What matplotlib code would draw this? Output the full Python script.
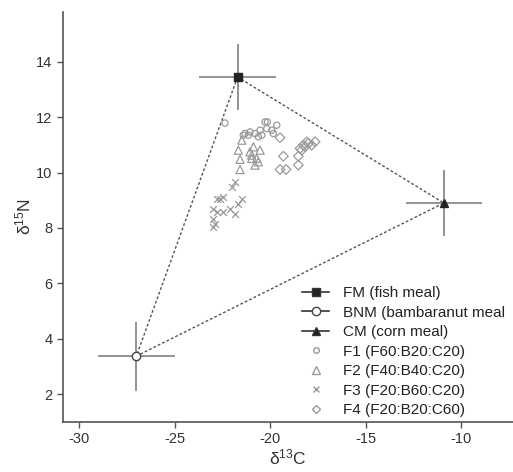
import numpy as np
import matplotlib.pyplot as plt
from matplotlib.lines import Line2D

# source end members: mean and spread
src_names = ['FM (fish meal)', 'BNM (bambaranut meal', 'CM (corn meal)']
src_c = [-21.7, -27.0, -10.9]
src_n = [13.45, 3.37, 8.9]
src_c_err = [2.0, 2.0, 2.0]
src_n_err = [1.2, 1.25, 1.2]

# consumer samples
f1_c = [-22.36, -21.31, -21.05, -20.79, -20.52, -20.26, -20.14, -19.65, -20.17,
        -19.91, -19.83, -20.43, -20.61, -21.14, -21.40]
f1_n = [11.79, 11.41, 11.47, 11.41, 11.53, 11.83, 11.83, 11.71, 11.59,
        11.53, 11.41, 11.35, 11.29, 11.35, 11.35]

f2_c = [-21.48, -21.66, -21.57, -21.57, -21.05, -20.96, -20.52, -20.70, -20.79,
        -20.96, -20.87, -20.61]
f2_n = [11.17, 10.81, 10.48, 10.11, 10.75, 10.63, 10.81, 10.51, 10.27,
        10.51, 10.93, 10.39]

f3_c = [-22.01, -21.83, -22.79, -22.44, -22.62, -21.48, -21.66, -22.97, -22.79,
        -22.44, -22.09, -21.83, -22.97, -22.97, -22.88]
f3_n = [9.48, 9.66, 9.06, 9.12, 9.06, 9.06, 8.88, 8.70, 8.58,
        8.58, 8.70, 8.52, 8.34, 8.04, 8.16]

f4_c = [-19.48, -19.30, -19.48, -19.16, -18.52, -18.52, -18.43, -18.26, -18.08,
        -17.64, -18.34, -18.17, -17.99, -17.82]
f4_n = [11.26, 10.59, 10.11, 10.11, 10.59, 10.27, 10.87, 10.99, 11.11,
        11.11, 10.81, 10.93, 11.05, 10.99]

f_labels = ['F1 (F60:B20:C20)', 'F2 (F40:B40:C20)', 'F3 (F20:B60:C20)', 'F4 (F20:B20:C60)']

plt.rcParams['font.family'] = ['Liberation Sans', 'DejaVu Sans']
plt.rcParams['axes.unicode_minus'] = False
plt.rcParams['mathtext.default'] = 'regular'

fig = plt.figure(figsize=(5.13, 4.72), dpi=100)
ax = fig.add_axes([0.1228, 0.1059, 0.8772, 0.8687])

spine_col = '#555555'
pt_col = '#9a9a9a'

# mixing polygon
tri_c = src_c + [src_c[0]]
tri_n = src_n + [src_n[0]]
ax.plot(tri_c, tri_n, linestyle=(0, (2, 1.5)), color='#555555', linewidth=1.0, zorder=2)

# error bars of sources
ax.errorbar(src_c, src_n, xerr=src_c_err, yerr=src_n_err, fmt='none',
            ecolor='#8a8a8a', elinewidth=1.3, capsize=0, zorder=3)

# sample points
ax.scatter(f1_c, f1_n, marker='o', s=20, facecolors='none', edgecolors=pt_col, linewidths=0.9, zorder=4)
ax.scatter(f2_c, f2_n, marker='^', s=34, facecolors='none', edgecolors=pt_col, linewidths=0.9, zorder=4)
ax.scatter(f3_c, f3_n, marker='x', s=24, color=pt_col, linewidths=0.9, zorder=4)
ax.scatter(f4_c, f4_n, marker='D', s=24, facecolors='none', edgecolors=pt_col, linewidths=0.9, zorder=4)

# source markers
ax.plot(src_c[0], src_n[0], marker='s', ms=6, color='#222222', linestyle='none', zorder=5)
ax.plot(src_c[1], src_n[1], marker='o', ms=6, markerfacecolor='white',
        markeredgecolor='#444444', markeredgewidth=1.0, linestyle='none', zorder=5)
ax.plot(src_c[2], src_n[2], marker='^', ms=6, color='#222222', linestyle='none', zorder=5)

ax.set_xlim(-30.84, -7.28)
ax.set_ylim(0.99, 15.8)
ax.set_xticks([-30, -25, -20, -15, -10])
ax.set_yticks([2, 4, 6, 8, 10, 12, 14])

for s in ['top', 'right']:
    ax.spines[s].set_visible(False)
for s in ['left', 'bottom']:
    ax.spines[s].set_color(spine_col)
    ax.spines[s].set_linewidth(1.2)
ax.tick_params(direction='out', length=4, width=1, color=spine_col,
               labelsize=10.5, labelcolor='#333333')

ax.set_xlabel('δ$^{13}$C', fontsize=12.5, color='#333333', labelpad=1)
ax.set_ylabel('δ$^{15}$N', fontsize=12.5, color='#333333', labelpad=2)

handles = [
    Line2D([], [], color='#333333', lw=1.2, marker='s', ms=6, markerfacecolor='#222222'),
    Line2D([], [], color='#333333', lw=1.2, marker='o', ms=6, markerfacecolor='white',
           markeredgecolor='#444444'),
    Line2D([], [], color='#333333', lw=1.2, marker='^', ms=6, markerfacecolor='#222222'),
    Line2D([], [], linestyle='none', marker='o', ms=4, markerfacecolor='none', markeredgecolor=pt_col),
    Line2D([], [], linestyle='none', marker='^', ms=5.5, markerfacecolor='none', markeredgecolor=pt_col),
    Line2D([], [], linestyle='none', marker='x', ms=4.5, color=pt_col),
    Line2D([], [], linestyle='none', marker='D', ms=4.5, markerfacecolor='none', markeredgecolor=pt_col),
]
leg = ax.legend(handles, src_names + f_labels, loc='upper left',
                bbox_to_anchor=(0.514, 0.35), frameon=False, fontsize=11,
                handlelength=1.8, handletextpad=0.9, labelspacing=0.36, borderpad=0)
for t in leg.get_texts():
    t.set_color('#222222')

fig.savefig('out.png', dpi=100)
